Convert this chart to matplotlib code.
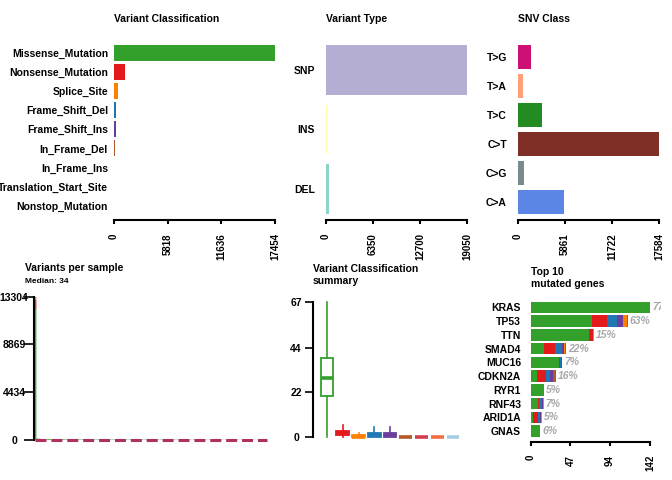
import numpy as np
import matplotlib
matplotlib.use("Agg")
import matplotlib.pyplot as plt

plt.rcParams['font.family'] = ['Liberation Sans', 'DejaVu Sans']
plt.rcParams['font.weight'] = 'bold'

# ---------------- data ----------------
vc_classes = ['Missense_Mutation', 'Nonsense_Mutation', 'Splice_Site', 'Frame_Shift_Del',
              'Frame_Shift_Ins', 'In_Frame_Del', 'In_Frame_Ins', 'Translation_Start_Site',
              'Nonstop_Mutation']
vc_counts = [17454, 1190, 430, 190, 170, 75, 35, 15, 8]
vc_colors = ['#33A02C', '#E31A1C', '#FF7F00', '#1F78B4', '#6A3D9A',
             '#B15928', '#D53E4F', '#F46D43', '#A6CEE3']

vt_types = ['SNP', 'INS', 'DEL']
vt_counts = [19050, 200, 420]
vt_colors = ['#B3AED2', '#FFFFB3', '#8DD3C7']

snv_classes = ['T>G', 'T>A', 'T>C', 'C>T', 'C>G', 'C>A']
snv_counts = [1620, 660, 3020, 17584, 780, 5720]
snv_colors = ['#CD1076', '#FFA07A', '#228B22', '#7F2F26', '#7A8B8B', '#5B86E5']

# hypermutated sample, split by class (same order as vc_classes)
top_sample_counts = [12150, 880, 140, 80, 40, 10, 4, 0, 0]
# remaining samples, total variants each (sorted)
other_sample_totals = [
    148, 131, 119, 108, 101, 95, 90, 86, 82, 79, 76, 73, 71, 69, 67, 65, 63, 62, 60, 59,
    58, 57, 56, 55, 54, 53, 52, 51, 50, 49, 49, 48, 48, 47, 47, 46, 46, 45, 45, 44,
    44, 43, 43, 42, 42, 41, 41, 41, 40, 40, 40, 39, 39, 39, 38, 38, 38, 37, 37, 37,
    37, 37, 36, 36, 36, 36, 35, 35, 35, 35, 35, 35, 35, 35, 35, 35, 35, 35, 35, 35,
    35, 35, 34, 34, 34, 34, 34, 34, 34, 34, 34, 34, 34, 34, 33, 33, 33, 33, 33, 33,
    33, 33, 32, 32, 32, 32, 31, 31, 31, 31, 30, 30, 30, 30, 29, 29, 29, 29, 28, 28,
    28, 28, 27, 27, 27, 27, 26, 26, 26, 25, 25, 25, 24, 24, 24, 23, 23, 23, 22, 22,
    22, 21, 21, 21, 20, 20, 20, 19, 19, 19, 18, 18, 18, 17, 17, 17, 16, 16, 16, 15,
    15, 15, 14, 14, 14, 13, 13, 13, 12, 12, 11, 11, 10, 10, 9, 8, 7, 6, 5, 4, 3, 2, 1]

# variant classification summary (per-sample distribution), one value per class
box_q1 = [20, 1, 0, 0, 0, 0, 0, 0, 0]
box_med = [29, 2, 0, 1, 1, 0, 0, 0, 0]
box_q3 = [39, 3, 1, 2, 2, 0, 0, 0, 0]
box_lo = [0, 0, 0, 0, 0, 0, 0, 0, 0]
box_hi = [67, 6, 2, 5, 5, 0, 0, 0, 0]

genes = ['KRAS', 'TP53', 'TTN', 'SMAD4', 'MUC16', 'CDKN2A', 'RYR1', 'RNF43', 'ARID1A', 'GNAS']
gene_missense = [142, 73, 69, 15, 33, 7, 15, 8, 2, 11]
gene_nonsense = [0, 17, 5, 13, 2, 11, 0, 1, 6, 0]
gene_fs_del = [0, 12, 0, 9, 1, 5, 0, 4, 3, 0]
gene_fs_ins = [0, 8, 0, 2, 1, 3, 0, 1, 1, 0]
gene_splice = [0, 4, 1, 2, 0, 0, 1, 1, 1, 0]
gene_if_del = [0, 1, 0, 1, 0, 4, 0, 0, 0, 0]
gene_pct = ['77%', '63%', '15%', '22%', '7%', '16%', '5%', '7%', '5%', '6%']

# ---------------- layout helpers ----------------
W, H = 672, 480
fig = plt.figure(figsize=(W / 100, H / 100), dpi=100)


def px_axes(x0, y0, x1, y1):
    return fig.add_axes([x0 / W, 1 - y1 / H, (x1 - x0) / W, (y1 - y0) / H])


def title(x, y, s, size=7.5, **kw):
    fig.text(x / W, 1 - y / H, s, fontsize=size, ha='left', va='center', **kw)


def axis_ticks(vmax):
    # maftools style: 4 ticks, truncated
    return np.floor(np.linspace(0, vmax, 4)).astype(int)


def bottom_axis(ax, vmax, offset_px):
    for s in ['top', 'right', 'left']:
        ax.spines[s].set_visible(False)
    sp = ax.spines['bottom']
    sp.set_position(('outward', offset_px * 0.72))
    sp.set_bounds(0, vmax)
    sp.set_linewidth(1.5)
    t = axis_ticks(vmax)
    ax.set_xticks(t)
    ax.set_xticklabels([str(v) for v in t], rotation=90, fontsize=7)
    ax.tick_params(axis='x', direction='out', length=3, width=1.5, pad=6.5)


def left_axis(ax, vmax, tick_px, center_px, outward_px=0):
    for s in ['top', 'right', 'bottom']:
        ax.spines[s].set_visible(False)
    sp = ax.spines['left']
    sp.set_position(('outward', outward_px * 0.72))
    sp.set_bounds(0, vmax)
    sp.set_linewidth(1.5)
    t = axis_ticks(vmax)
    ax.set_yticks(t)
    ax.set_yticklabels([str(v) for v in t], fontsize=7.5)
    ax.tick_params(axis='y', direction='out', length=tick_px * 0.72, width=1.2,
                   pad=(center_px - tick_px) * 0.72)
    for lab in ax.get_yticklabels():
        lab.set_ha('center')
    ax.set_xticks([])


def hbar_panel(x0, x1, labels, values, colors, label_pad_px):
    ax = px_axes(x0, 45, x1, 213.7)
    n = len(values)
    pos = np.arange(n) * 1.2 + 0.5
    ax.barh(pos, values, height=1, color=colors, edgecolor='none')
    ax.set_ylim(n * 1.2 - 0.2, 0)
    ax.set_xlim(0, max(values))
    bottom_axis(ax, max(values), 6.3)
    ax.set_yticks(pos)
    ax.set_yticklabels(labels, fontsize=7.5)
    ax.tick_params(axis='y', length=0, pad=label_pad_px * 0.72)
    return ax


# ---------------- top row ----------------
hbar_panel(114, 275, vc_classes, vc_counts, vc_colors, 6)
title(114, 19, 'Variant Classification')

hbar_panel(326, 467, vt_types, vt_counts, vt_colors, 11)
title(326, 19, 'Variant Type')

hbar_panel(518, 659, snv_classes, snv_counts, snv_colors, 11)
title(518, 19, 'SNV Class')

# ---------------- variants per sample ----------------
totals = [sum(top_sample_counts)] + other_sample_totals
median_vps = int(np.median(totals))
vmax = max(totals)
ax = px_axes(35, 296.7, 267, 440)
xs = np.arange(len(totals)) * 1.2 + 0.7
bottom = 0
for cnt, col in zip(top_sample_counts, vc_colors):
    ax.bar(xs[0], cnt, bottom=bottom, width=1.2, color=col, linewidth=0, snap=False)
    bottom += cnt
ax.bar(xs[1:], other_sample_totals, width=1, color=vc_colors[0], linewidth=0,
       snap=False, clip_on=False)
ax.axhline(median_vps, color='#B03060', lw=2.2, linestyle=(0, (3.6, 1.6)), clip_on=False)
ax.set_xlim(0, len(totals) * 1.2 + 0.2)
ax.set_ylim(0, vmax)
left_axis(ax, vmax, 10, 20, outward_px=1)
title(25, 268.3, 'Variants per sample')
title(25, 281.7, f'Median: {median_vps}', size=6)

# ---------------- variant classification summary ----------------
ax = px_axes(313, 301.7, 462.5, 436.7)
stats = []
for i in range(len(vc_classes)):
    stats.append({'q1': box_q1[i], 'med': box_med[i], 'q3': box_q3[i],
                  'whislo': box_lo[i], 'whishi': box_hi[i], 'fliers': []})
parts = ax.bxp(stats, positions=np.arange(1, len(stats) + 1), widths=0.8,
               showfliers=False, showcaps=False, patch_artist=True)
for i, col in enumerate(vc_colors):
    box = parts['boxes'][i]
    box.set_facecolor('white')
    box.set_edgecolor(col)
    box.set_linewidth(1.3)
    parts['medians'][i].set_color(col)
    parts['medians'][i].set_linewidth(2.6)
    for w in parts['whiskers'][2 * i:2 * i + 2]:
        w.set_color(col)
        w.set_linewidth(1.2)
for group in parts.values():
    for art in group:
        art.set_clip_on(False)
ax.set_xlim(0.11, 9.6)
ax.set_ylim(0, max(box_hi))
left_axis(ax, max(box_hi), 8, 17)
fig.text(313 / W, 1 - 274.5 / H, 'Variant Classification\nsummary', fontsize=7.5,
         ha='left', va='center', linespacing=1.25)

# ---------------- top 10 mutated genes ----------------
gene_totals = np.array(gene_missense) + gene_nonsense + gene_fs_del + gene_fs_ins + gene_splice + gene_if_del
gmax = int(gene_totals.max())
ax = px_axes(531, 301.7, 661, 436.7)
pos = np.arange(len(genes)) * 1.2 + 0.5
left = np.zeros(len(genes))
segments = [(gene_missense, vc_colors[0]), (gene_nonsense, vc_colors[1]),
            (gene_fs_del, vc_colors[3]), (gene_fs_ins, vc_colors[4]),
            (gene_splice, vc_colors[2]), (gene_if_del, vc_colors[5])]
for vals, col in segments:
    ax.barh(pos, vals, left=left, height=1, color=col, edgecolor='none')
    left += np.array(vals)
for p, tot, pct in zip(pos, gene_totals, gene_pct):
    ax.annotate(pct, (tot, p), xytext=(1.3, 0), textcoords='offset points',
                ha='left', va='center', fontsize=7.5, style='italic',
                color='#a8a8a8', clip_on=True)
ax.set_ylim(len(genes) * 1.2 - 0.2, 0)
ax.set_xlim(0, gmax * (661 - 531) / (650.3 - 531))
bottom_axis(ax, gmax, 5)
ax.set_yticks(pos)
ax.set_yticklabels(genes, fontsize=7.5)
ax.tick_params(axis='y', length=0, pad=10 * 0.72)
fig.text(531 / W, 1 - 278 / H, 'Top 10\nmutated genes', fontsize=7.5,
         ha='left', va='center', linespacing=1.25)

fig.savefig('out.png', dpi=100)
